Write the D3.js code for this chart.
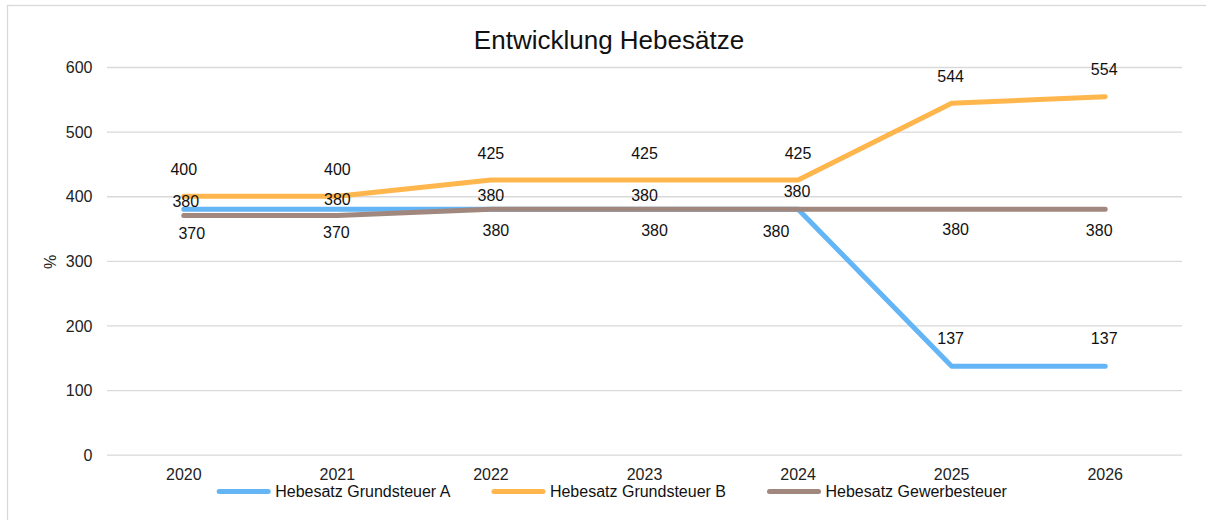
<!DOCTYPE html>
<html>
<head>
<meta charset="utf-8">
<script src="https://cdn.jsdelivr.net/npm/d3@7"></script>
<style>
  html, body { margin: 0; padding: 0; background: #fff; }
  svg { display: block; font-family: "Liberation Sans", Arial, sans-serif; }
</style>
</head>
<body>
<svg id="chart" width="1206" height="520"></svg>
<script>
// ---- data ----
const categories = ["2020", "2021", "2022", "2023", "2024", "2025", "2026"];
const grundsteuerA = [380, 380, 380, 380, 380, 137, 137];
const grundsteuerB = [400, 400, 425, 425, 425, 544, 554];
const gewerbesteuer = [370, 370, 380, 380, 380, 380, 380];
const seriesNames = ["Hebesatz Grundsteuer A", "Hebesatz Grundsteuer B", "Hebesatz Gewerbesteuer"];
const yTicks = [0, 100, 200, 300, 400, 500, 600];
const titleText = "Entwicklung Hebesätze";
const yAxisLabel = "%";

// ---- layout / style (not data) ----
const colors = ["#64B5F6", "#FFB74D", "#A1887F"];
// label placement offsets (label centre relative to point) per series
const labelDx = [
  [2, 0, 0, 0, -1, -1, -1],
  [0, 0, 0, 0, 0, -1, -1],
  [8, -1, 5, 10, -22, 4, -6]
];
const labelDy = [
  [-7.5, -9.5, -13.5, -13.5, -17.5, -28, -28],
  [-27, -27, -27, -27, -27, -27, -27],
  [18, 16.5, 21.5, 21.5, 22, 20, 21.5]
];

const svg = d3.select("#chart");
const M = { left: 107, right: 1182, top: 67, bottom: 454.7 };

// outer chart border
svg.append("rect")
  .attr("x", 7.5).attr("y", 5.5)
  .attr("width", 1212).attr("height", 530)
  .attr("fill", "#fff").attr("stroke", "#d9d9d9").attr("stroke-width", 1.3);

const x = d3.scaleBand().domain(categories).range([M.left, M.right]).paddingInner(0).paddingOuter(0);
const y = d3.scaleLinear().domain([0, 600]).range([M.bottom, M.top]);
const cx = c => x(c) + x.bandwidth() / 2;

// gridlines via axis
const yAxis = d3.axisLeft(y).tickValues(yTicks).tickSize(-(M.right - M.left)).tickPadding(14);
const gy = svg.append("g").attr("transform", `translate(${M.left},0)`).call(yAxis);
gy.select(".domain").remove();
gy.selectAll(".tick line").attr("stroke", "#d9d9d9").attr("stroke-width", 1.3);
gy.selectAll(".tick text")
  .attr("font-size", 16).attr("fill", "#222").attr("font-family", "Liberation Sans, Arial, sans-serif")
  .attr("x", -14.5).attr("dy", "0.35em");

// x axis labels
const xAxis = d3.axisBottom(x).tickSize(0).tickPadding(0);
const gx = svg.append("g").attr("transform", `translate(0,${M.bottom})`).call(xAxis);
gx.select(".domain").remove();
gx.selectAll(".tick text")
  .attr("font-size", 16).attr("fill", "#222").attr("font-family", "Liberation Sans, Arial, sans-serif")
  .attr("y", 19.3).attr("dy", "0.35em");

// title
svg.append("text")
  .attr("x", 609).attr("y", 49.3)
  .attr("text-anchor", "middle").attr("font-size", 26).attr("fill", "#111")
  .text(titleText);

// y axis label
svg.append("text")
  .attr("transform", "translate(55.5,262) rotate(-90)")
  .attr("text-anchor", "middle").attr("font-size", 16).attr("fill", "#222")
  .text(yAxisLabel);

// lines
const allSeries = [grundsteuerA, grundsteuerB, gewerbesteuer];
const line = d3.line().x((d, i) => cx(categories[i])).y(d => y(d));
allSeries.forEach((s, k) => {
  svg.append("path")
    .datum(s)
    .attr("d", line)
    .attr("fill", "none")
    .attr("stroke", colors[k])
    .attr("stroke-width", 5)
    .attr("stroke-linecap", "round")
    .attr("stroke-linejoin", "round");
});

// data labels
allSeries.forEach((s, k) => {
  svg.append("g").selectAll("text")
    .data(s)
    .join("text")
    .attr("x", (d, i) => cx(categories[i]) + labelDx[k][i])
    .attr("y", (d, i) => y(d) + labelDy[k][i])
    .attr("dy", "0.35em")
    .attr("text-anchor", "middle")
    .attr("font-size", 16)
    .attr("fill", "#111")
    .text(d => d);
});

// legend
const legendStartX = 216.7, legendY = 491.5, lineLen = 54, textGap = 4.5, entryGap = 41;
let lx = legendStartX;
seriesNames.forEach((name, k) => {
  const g = svg.append("g");
  g.append("line")
    .attr("x1", lx + 2.5).attr("x2", lx + lineLen - 2.5)
    .attr("y1", legendY).attr("y2", legendY)
    .attr("stroke", colors[k]).attr("stroke-width", 5).attr("stroke-linecap", "round");
  const t = g.append("text")
    .attr("x", lx + lineLen + textGap).attr("y", legendY).attr("dy", "0.35em")
    .attr("font-size", 16).attr("fill", "#111")
    .text(name);
  const w = t.node().getComputedTextLength();
  lx += lineLen + textGap + w + entryGap;
});
</script>
</body>
</html>
